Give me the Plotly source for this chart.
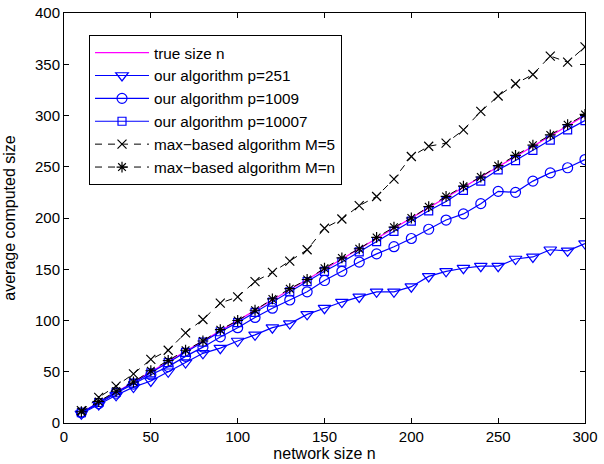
import plotly.graph_objects as go

n_vals = list(range(10, 301, 10))
true_size = list(range(10, 301, 10))
p251 = [9, 18, 27, 35, 41, 50, 59, 68, 73, 80, 86, 93, 97, 106, 112, 118, 123, 128, 128, 133,
        143, 148, 151, 153, 153, 160, 162, 169, 168, 175]
p1009 = [10, 19, 29, 38, 47, 55, 65, 74, 84, 93, 103, 112, 120, 128, 139, 148, 157, 165, 172, 180,
         189, 198, 204, 214, 226, 225, 236, 244, 249, 257]
p10007 = [10, 20, 30, 39, 49, 59, 69, 79, 89, 98, 108, 118, 128, 138, 148, 157, 167, 177, 187, 197,
          207, 216, 227, 236, 247, 256, 266, 276, 286, 295]
max_m5 = [12, 25, 36, 48, 62, 71, 88, 101, 117, 123, 138, 147, 158, 169, 190, 199, 212, 221, 238, 260,
          270, 273, 286, 304, 319, 331, 340, 358, 352, 367]
max_mn = [11, 21, 31, 40, 51, 61, 71, 80, 91, 100, 110, 121, 131, 140, 151, 161, 170, 181, 191, 200,
          211, 221, 231, 240, 251, 261, 271, 281, 291, 301]

x_ticks = [0, 50, 100, 150, 200, 250, 300]
y_ticks = [0, 50, 100, 150, 200, 250, 300, 350, 400]

FONT = "Liberation Sans, Arial, Helvetica, sans-serif"
BLUE = "#0000FF"

fig = go.Figure()
fig.add_trace(go.Scatter(x=n_vals, y=true_size, mode="lines", name="true size n",
                         line=dict(color="#FF00FF", width=1.2)))
fig.add_trace(go.Scatter(x=n_vals, y=p251, mode="lines+markers", name="our algorithm p=251",
                         line=dict(color=BLUE, width=1.2),
                         marker=dict(symbol="triangle-down-open", size=11, color=BLUE,
                                     line=dict(width=1.2, color=BLUE))))
fig.add_trace(go.Scatter(x=n_vals, y=p1009, mode="lines+markers", name="our algorithm p=1009",
                         line=dict(color=BLUE, width=1.2),
                         marker=dict(symbol="circle-open", size=10, color=BLUE,
                                     line=dict(width=1.2, color=BLUE))))
fig.add_trace(go.Scatter(x=n_vals, y=p10007, mode="lines+markers", name="our algorithm p=10007",
                         line=dict(color=BLUE, width=1.2),
                         marker=dict(symbol="square-open", size=8, color=BLUE,
                                     line=dict(width=1.2, color=BLUE))))
fig.add_trace(go.Scatter(x=n_vals, y=max_m5, mode="lines+markers", name="max\u2212based algorithm M=5",
                         line=dict(color="black", width=1, dash="7px,6px"),
                         marker=dict(symbol="x-thin-open", size=9, color="black",
                                     line=dict(width=1.2, color="black"))))
fig.add_trace(go.Scatter(x=n_vals, y=max_mn, mode="lines+markers", name="max\u2212based algorithm M=n",
                         line=dict(color="black", width=1, dash="7px,6px"),
                         marker=dict(symbol="asterisk-open", size=9, color="black",
                                     line=dict(width=1.2, color="black"))))

axis_common = dict(showgrid=False, zeroline=False, showline=True, linecolor="black", linewidth=1,
                   mirror="ticks", ticks="inside", ticklen=5, tickcolor="black", automargin=False,
                   tickfont=dict(family=FONT, size=15, color="black"))

fig.update_layout(
    width=604, height=464,
    margin=dict(l=64, r=19, t=13, b=41, autoexpand=False),
    paper_bgcolor="white", plot_bgcolor="white",
    font=dict(family=FONT, size=16, color="black"),
    showlegend=True,
    legend=dict(x=0.048, y=0.946, xanchor="left", yanchor="top",
                bgcolor="white", bordercolor="black", borderwidth=1,
                font=dict(family=FONT, size=15.3, color="black"),
                itemwidth=54, tracegroupgap=0),
    xaxis=dict(range=[0, 300], tickvals=x_ticks,
               title=dict(text="network size n", font=dict(family=FONT, size=16), standoff=2),
               **axis_common),
    yaxis=dict(range=[0, 400], tickvals=y_ticks,
               title=dict(text="average computed size", font=dict(family=FONT, size=16), standoff=15),
               **axis_common),
)

fig.write_html("out.html", config={"displayModeBar": False},
               post_script="document.body.style.margin='0';document.body.style.overflow='hidden';")
